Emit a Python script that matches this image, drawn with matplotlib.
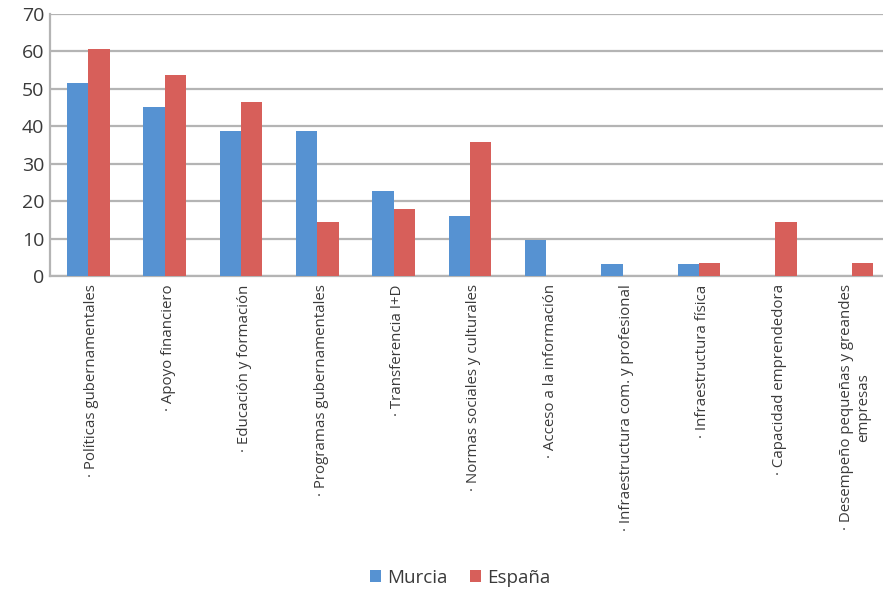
import matplotlib.pyplot as plt
import numpy as np

categorias = [
    "· Políticas gubernamentales",
    "· Apoyo financiero",
    "· Educación y formación",
    "· Programas gubernamentales",
    "· Transferencia I+D",
    "· Normas sociales y culturales",
    "· Acceso a la información",
    "· Infraestructura com. y profesional",
    "· Infraestructura física",
    "· Capacidad emprendedora",
    "· Desempeño pequeñas y greandes\nempresas",
]
murcia = [51.6, 45.2, 38.7, 38.7, 22.6, 16.1, 9.7, 3.2, 3.2, 0, 0]
espana = [60.7, 53.6, 46.4, 14.3, 17.9, 35.7, 0, 0, 3.6, 14.3, 3.6]

plt.rcParams['font.family'] = ['Open Sans', 'DejaVu Sans']

fig = plt.figure(figsize=(8.83, 5.95), dpi=100)
ax = fig.add_axes([50 / 883, 1 - 276 / 595, 833 / 883, 262 / 595])

x = np.arange(len(categorias))
w = 0.28
ax.bar(x - w / 2, murcia, w, color="#5692D2", label="Murcia", zorder=3)
ax.bar(x + w / 2, espana, w, color="#D75F5A", label="España", zorder=3)

ax.set_xlim(-0.5, 10.41)
ax.set_ylim(0, 70)
ax.set_yticks(range(0, 71, 10))
ax.yaxis.grid(True, color="#b4b4b4", linewidth=1.6, zorder=0)
ax.set_axisbelow(True)

for s in ["top", "right"]:
    ax.spines[s].set_visible(False)
for s in ["left", "bottom"]:
    ax.spines[s].set_color("#b4b4b4")
    ax.spines[s].set_linewidth(1.6)

ax.set_xticks(x + 0.05)
ax.set_xticklabels(categorias, rotation=90, fontsize=10.8, color="#3a3a3a",
                   va="top", ha="center", multialignment="center")
ax.tick_params(axis="x", length=0, pad=6)
ax.tick_params(axis="y", length=0, pad=4, labelsize=14, labelcolor="#3a3a3a")

fig.legend(loc="center", bbox_to_anchor=(460 / 883, 1 - 578 / 595), ncol=2,
           frameon=False, fontsize=13.5, handlelength=0.6, handleheight=0.6,
           handletextpad=0.3, columnspacing=1.2, labelcolor="#3a3a3a")

fig.savefig("out.png", dpi=100)
